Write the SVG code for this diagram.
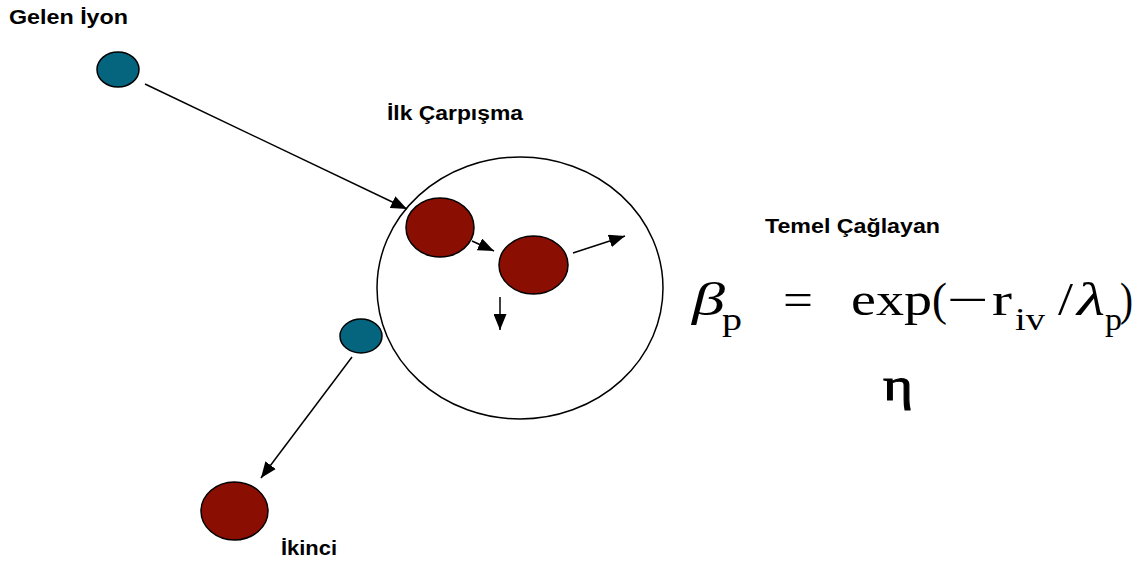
<svg xmlns="http://www.w3.org/2000/svg" width="1143" height="563" viewBox="0 0 1143 563">
<defs>
<marker id="ah" markerUnits="userSpaceOnUse" markerWidth="16" markerHeight="13" refX="16" refY="6.5" orient="auto">
<path d="M0,0 L16,6.5 L0,13 z" fill="#000"/>
</marker>
<style>
.lbl{font-family:"Liberation Sans",Arial,sans-serif;font-weight:bold;font-size:20px;fill:#000}
.m{font-family:"Liberation Serif","Times New Roman",serif;font-size:46px;fill:#000}
.ms{font-family:"Liberation Serif","Times New Roman",serif;font-size:32px;fill:#000}
.it{font-style:italic}
.teal{fill:#05657f;stroke:#000;stroke-width:1.5}
.red{fill:#8b0e02;stroke:#000;stroke-width:1.5}
.conn line{stroke:#000;stroke-width:1.5;marker-end:url(#ah)}
</style>
</defs>
<rect width="1143" height="563" fill="#fff"/>
<g id="region">
<ellipse cx="520" cy="288" rx="143" ry="131" fill="none" stroke="#000" stroke-width="1.5"/>
</g>
<g id="incoming-ion">
<ellipse class="teal" cx="118" cy="69.5" rx="21" ry="17.5"/>
<text class="lbl" x="9" y="24" textLength="119" lengthAdjust="spacingAndGlyphs">Gelen İyon</text>
</g>
<g id="first-collision">
<ellipse class="red" cx="440" cy="227.5" rx="34" ry="29.5"/>
<text class="lbl" x="387" y="120" textLength="136" lengthAdjust="spacingAndGlyphs">İlk Çarpışma</text>
</g>
<g id="second-atom">
<ellipse class="red" cx="533.5" cy="265" rx="34.5" ry="29"/>
</g>
<g id="recoil-ion">
<ellipse class="teal" cx="361" cy="336" rx="21" ry="17"/>
</g>
<g id="secondary">
<ellipse class="red" cx="234.5" cy="511" rx="33.5" ry="29"/>
<text class="lbl" x="281" y="555" textLength="56" lengthAdjust="spacingAndGlyphs">İkinci</text>
</g>
<g id="cascade">
<text class="lbl" x="765" y="233" textLength="175" lengthAdjust="spacingAndGlyphs">Temel Çağlayan</text>
<text class="m it" x="692" y="315" textLength="33" lengthAdjust="spacingAndGlyphs">β</text>
<text class="ms" x="722" y="330" textLength="20" lengthAdjust="spacingAndGlyphs">p</text>
<text class="m" x="783" y="315" textLength="30" lengthAdjust="spacingAndGlyphs">=</text>
<text class="m" x="851" y="315" textLength="81" lengthAdjust="spacingAndGlyphs">exp</text>
<text class="m" x="932" y="315" textLength="15" lengthAdjust="spacingAndGlyphs">(</text>
<text class="m" x="947" y="315" textLength="42" lengthAdjust="spacingAndGlyphs">−</text>
<text class="m" x="992" y="315" textLength="20" lengthAdjust="spacingAndGlyphs">r</text>
<text class="ms" x="1015" y="330" textLength="30" lengthAdjust="spacingAndGlyphs">iv</text>
<text class="m" x="1058" y="315" textLength="15" lengthAdjust="spacingAndGlyphs">/</text>
<text class="m it" x="1077" y="315" textLength="28" lengthAdjust="spacingAndGlyphs">λ</text>
<text class="ms" x="1105" y="330" textLength="17" lengthAdjust="spacingAndGlyphs">p</text>
<text class="m" x="1120" y="315" textLength="13" lengthAdjust="spacingAndGlyphs">)</text>
<text class="m" x="883" y="400" font-size="52" stroke="#000" stroke-width="1" textLength="30" lengthAdjust="spacingAndGlyphs">η</text>
</g>
<g id="connectors" class="conn">
<line x1="145" y1="84" x2="407" y2="209"/>
<line x1="472" y1="241" x2="494" y2="251"/>
<line x1="573" y1="253" x2="625" y2="236"/>
<line x1="500" y1="297" x2="500" y2="330"/>
<line x1="352" y1="357" x2="261" y2="478"/>
</g>
</svg>
